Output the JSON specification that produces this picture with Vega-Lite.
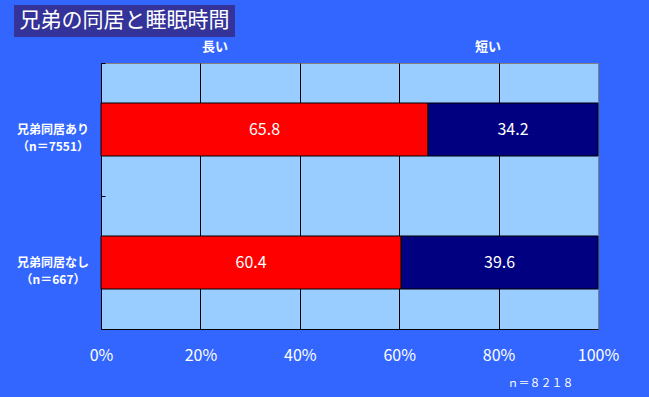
{
  "$schema": "https://vega.github.io/schema/vega-lite/v6.json",
  "background": "#3366FF",
  "padding": {"left": 14, "top": 5, "right": 30, "bottom": 8},
  "config": {"font": "Noto Sans CJK JP", "view": {"stroke": null}},
  "spacing": 2,
  "resolve": {"scale": {"color": "independent"}, "legend": {"color": "independent"}},
  "datasets": {
    "rows": [
      {"group": "兄弟同居あり", "series": "長い", "o": 1, "value": 65.8},
      {"group": "兄弟同居あり", "series": "短い", "o": 2, "value": 34.2},
      {"group": "兄弟同居なし", "series": "長い", "o": 1, "value": 60.4},
      {"group": "兄弟同居なし", "series": "短い", "o": 2, "value": 39.6}
    ],
    "labels": [
      {"group": "兄弟同居あり", "label": "兄弟同居あり\n（n＝7551）"},
      {"group": "兄弟同居なし", "label": "兄弟同居なし\n（n＝667）"}
    ]
  },
  "vconcat": [
    {
      "width": 221,
      "height": 32,
      "view": {"fill": "#333399", "stroke": null},
      "data": {"values": [{"t": "兄弟の同居と睡眠時間"}]},
      "mark": {"type": "text", "color": "white", "fontSize": 21, "font": "Noto Sans CJK JP"},
      "encoding": {"text": {"field": "t", "type": "nominal"}}
    },
    {
      "spacing": -4,
      "resolve": {"scale": {"color": "independent", "y": "independent"}, "legend": {"color": "independent"}},
      "hconcat": [
        {
          "width": 78,
          "height": 266,
          "view": {"fill": null, "stroke": null},
          "data": {"name": "labels"},
          "mark": {"type": "text", "color": "white", "fontSize": 12, "fontWeight": "bold", "lineBreak": "\n", "lineHeight": 17, "baseline": "middle", "align": "center"},
          "encoding": {
            "y": {
              "field": "group",
              "type": "nominal",
              "sort": ["兄弟同居あり", "兄弟同居なし"],
              "scale": {"paddingInner": 0, "paddingOuter": 0},
              "axis": null
            },
            "text": {"field": "label", "type": "nominal"}
          }
        },
        {
          "width": 497,
          "height": 266,
          "view": {"fill": "#99CCFF", "stroke": "#808080"},
          "data": {"name": "rows"},
          "encoding": {
            "y": {
              "field": "group",
              "type": "nominal",
              "sort": ["兄弟同居あり", "兄弟同居なし"],
              "scale": {"paddingInner": 0, "paddingOuter": 0},
              "axis": {
                "title": null,
                "labels": false,
                "tickBand": "extent",
                "tickSize": -4,
                "tickColor": "black",
                "domainColor": "black"
              }
            }
          },
          "layer": [
            {
              "mark": {"type": "bar", "size": 53, "stroke": "black", "strokeWidth": 1},
              "encoding": {
                "x": {
                  "field": "value",
                  "type": "quantitative",
                  "stack": "zero",
                  "scale": {"domain": [0, 100]},
                  "axis": {
                    "values": [0, 20, 40, 60, 80, 100],
                    "labelExpr": "datum.value + '%'",
                    "grid": true,
                    "gridColor": {"condition": {"test": "datum.value == 100", "value": "#808080"}, "value": "black"},
                    "gridOpacity": 1,
                    "ticks": false,
                    "domainColor": "black",
                    "labelColor": "white",
                    "labelFontSize": 16,
                    "labelPadding": 18,
                    "labelFlush": false,
                    "title": "ｎ＝８２１８",
                    "titleX": 472,
                    "titleY": 54,
                    "titleAlign": "right",
                    "titleBaseline": "middle",
                    "titleFontSize": 11,
                    "titleFontWeight": "normal",
                    "titleColor": "white"
                  }
                },
                "color": {
                  "field": "series",
                  "type": "nominal",
                  "scale": {"domain": ["長い", "短い"], "range": ["#FF0000", "#000080"]},
                  "legend": {
                    "orient": "none",
                    "legendX": 88,
                    "legendY": -23,
                    "direction": "horizontal",
                    "title": null,
                    "symbolSize": 0,
                    "symbolOpacity": 0,
                    "symbolStrokeWidth": 0,
                    "labelOffset": 0,
                    "columnPadding": 233,
                    "labelFontSize": 13,
                    "labelFontWeight": "bold",
                    "labelColor": "white",
                    "padding": 0
                  }
                },
                "order": {"field": "o", "type": "quantitative"}
              }
            },
            {
              "mark": {"type": "text", "color": "white", "fontSize": 16},
              "encoding": {
                "x": {"field": "value", "type": "quantitative", "stack": "zero", "bandPosition": 0.5},
                "detail": {"field": "series", "type": "nominal"},
                "order": {"field": "o", "type": "quantitative"},
                "text": {"field": "value", "type": "quantitative", "format": ".1f"}
              }
            }
          ]
        }
      ]
    }
  ]
}
